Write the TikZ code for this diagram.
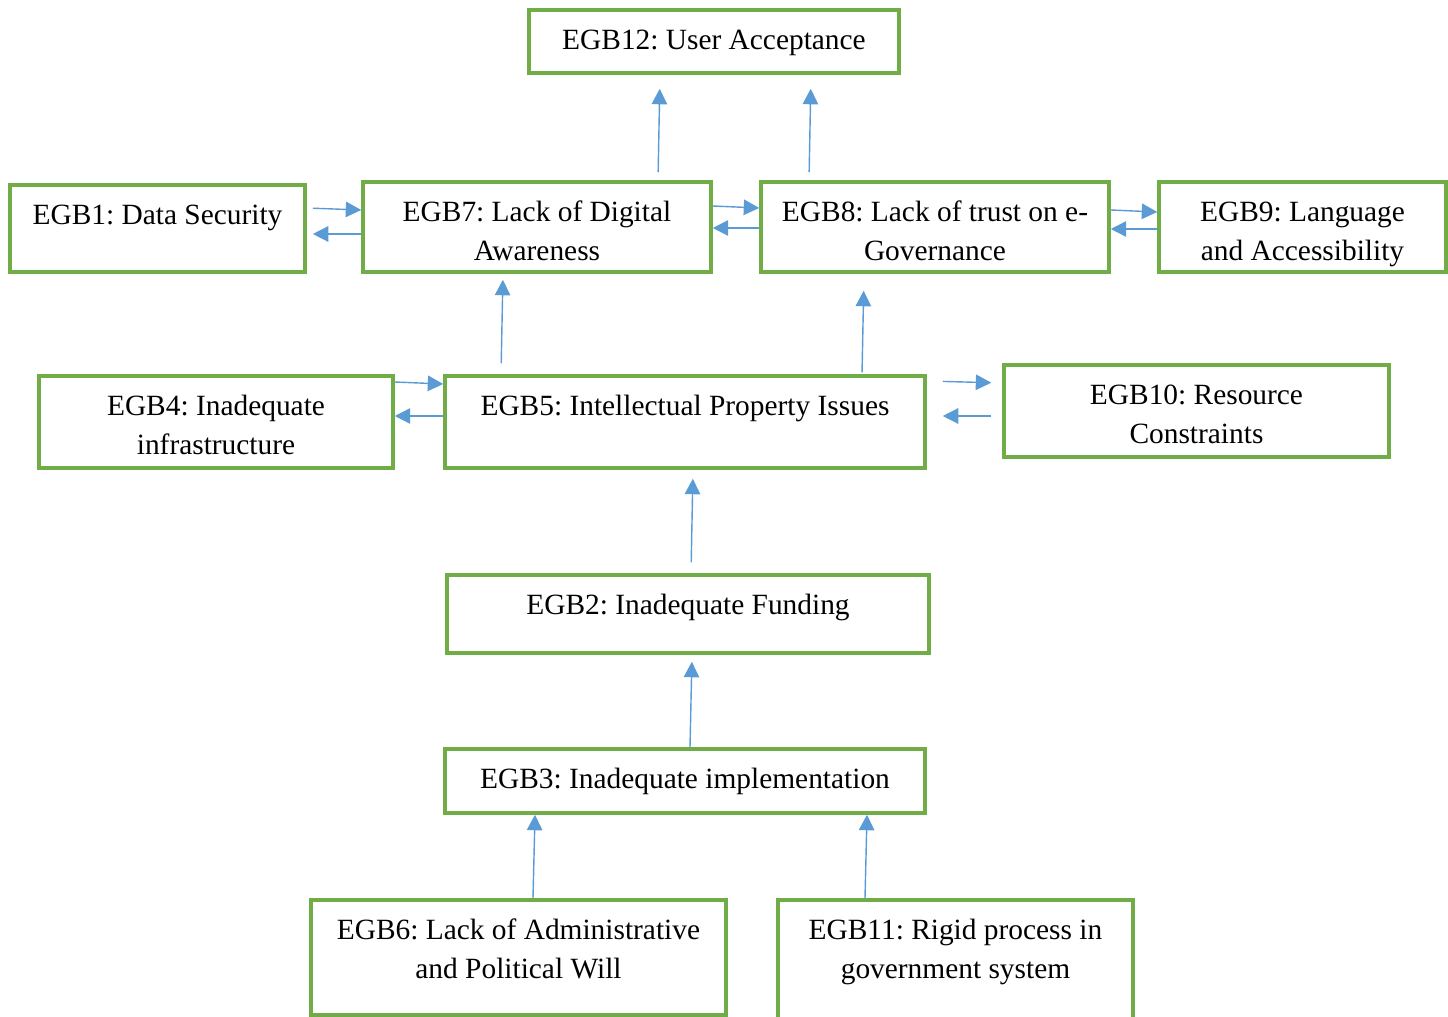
\documentclass[tikz,border=0pt]{standalone}
\usepackage{fontspec}
\setmainfont{Liberation Serif}
\usetikzlibrary{arrows.meta}
\frenchspacing

\definecolor{boxgreen}{HTML}{70AD47}
\definecolor{arrowblue}{HTML}{5B9BD5}

\newlength\unitpx
\setlength\unitpx{0.025cm}
% box text: width, height (in px), text set from the top
\newcommand{\btext}[3]{\parbox[c][#2\unitpx][t]{#1\unitpx}{\centering\rule{0pt}{28.4pt}#3}}

\tikzset{
    egbbox/.style={draw=boxgreen, line width=2.5pt, inner sep=0pt,
        font=\fontsize{20.9}{27.7}\selectfont},
    link/.style={draw=arrowblue, line width=1pt, -{Triangle[length=11pt,width=11pt]}}
}

\begin{document}
\begin{tikzpicture}[x=0.025cm, y=-0.025cm]
    \useasboundingbox (0,0) rectangle (1448,1017);

    % Boxes
    \node[egbbox] (b12) at (714,41.5) {\btext{370}{63}{EGB12: User Acceptance}};
    \node[egbbox] (b1) at (157.5,228.5) {\btext{295}{87}{EGB1: Data Security}};
    \node[egbbox] (b7) at (537,227) {\btext{348}{90}{EGB7: Lack of Digital\\Awareness}};
    \node[egbbox] (b8) at (935,227) {\btext{348}{90}{EGB8: Lack of trust on e-\\Governance}};
    \node[egbbox] (b9) at (1302.5,227) {\btext{287}{90}{EGB9: Language\\and Accessibility}};
    \node[egbbox] (b4) at (216,422) {\btext{354}{92}{EGB4: Inadequate\\infrastructure}};
    \node[egbbox] (b5) at (685,422) {\btext{480}{92}{EGB5: Intellectual Property Issues}};
    \node[egbbox] (b10) at (1196.5,411) {\btext{385}{92}{EGB10: Resource\\Constraints}};
    \node[egbbox] (b2) at (688,614) {\btext{482}{78}{EGB2: Inadequate Funding}};
    \node[egbbox] (b3) at (685,781) {\btext{480}{64}{EGB3: Inadequate implementation}};
    \node[egbbox] (b6) at (518.5,957.5) {\btext{415}{115}{EGB6: Lack of Administrative\\and Political Will}};
    \node[egbbox] (b11) at (955.5,962.5) {\btext{355}{125}{EGB11: Rigid process in\\government system}};

    % Upward links
    \draw[link, shorten <=5.7pt, shorten >=10pt] (658,0 |- b7.north) -- (660,0 |- b12.south);
    \draw[link, shorten <=5.7pt, shorten >=10pt] (809,0 |- b8.north) -- (811,0 |- b12.south);
    \draw[link, shorten <=7.8pt, shorten >=4.3pt] (501,0 |- b5.north) -- (503,0 |- b7.south);
    \draw[link, shorten <=1.4pt, shorten >=12.1pt] (862,0 |- b5.north) -- (864,0 |- b8.south);
    \draw[link, shorten <=7.8pt, shorten >=6.4pt] (691,0 |- b2.north) -- (693,0 |- b5.south);
    \draw[link, shorten >=5pt] (690,0 |- b3.north) -- (692,0 |- b2.south);
    \draw[link] (533,0 |- b6.north) -- (535,0 |- b3.south);
    \draw[link] (865,0 |- b11.north) -- (867,0 |- b3.south);

    % Two-way links
    \draw[link, shorten <=4.3pt] (b1.east |- 0,208) -- (b7.west |- 0,210);
    \draw[link, shorten >=4.3pt] (b7.west |- 0,234) -- (b1.east |- 0,234);
    \draw[link] (b7.east |- 0,206) -- (b8.west |- 0,208);
    \draw[link] (b8.west |- 0,228) -- (b7.east |- 0,228);
    \draw[link] (b8.east |- 0,210) -- (b9.west |- 0,212);
    \draw[link] (b9.west |- 0,229) -- (b8.east |- 0,229);
    \draw[link] (b4.east |- 0,382) -- (b5.west |- 0,384);
    \draw[link] (b5.west |- 0,416) -- (b4.east |- 0,416);
    \draw[link, shorten <=11.4pt, shorten >=7.8pt] (b5.east |- 0,381) -- (b10.west |- 0,383);
    \draw[link, shorten <=7.8pt, shorten >=11.4pt] (b10.west |- 0,416) -- (b5.east |- 0,416);
\end{tikzpicture}
\end{document}
